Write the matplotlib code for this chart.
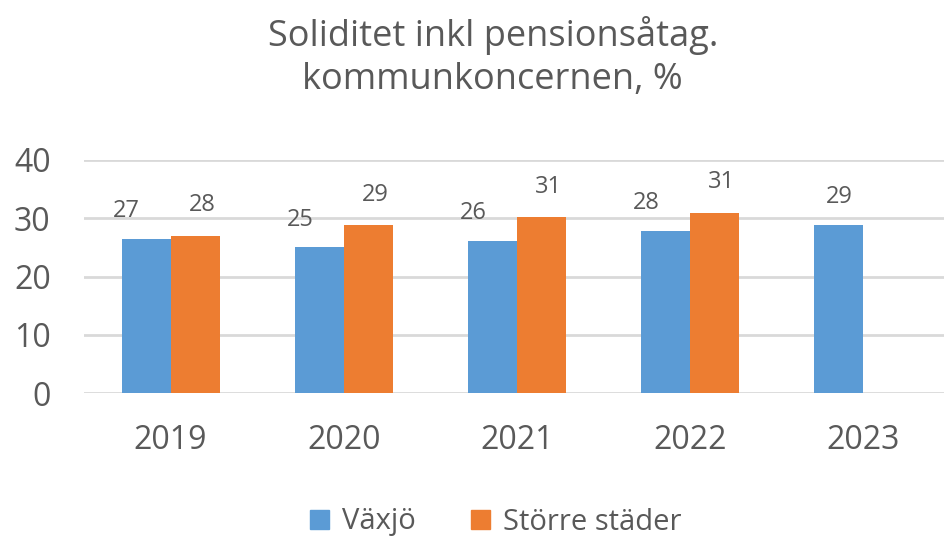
import numpy as np
import matplotlib
matplotlib.use('Agg')
import matplotlib.pyplot as plt
from matplotlib.patches import Patch

plt.rcParams['font.family'] = ['Open Sans', 'DejaVu Sans']

years = ['2019', '2020', '2021', '2022', '2023']
vaxjo = [26.4, 25.0, 26.1, 27.8, 28.8]
storre = [27.0, 28.8, 30.2, 30.9, np.nan]
vaxjo_labels = ['27', '25', '26', '28', '29']
storre_labels = ['28', '29', '31', '31', '']

title = 'Soliditet inkl pensionsåtag.\nkommunkoncernen, %'
series_names = ['Växjö', 'Större städer']

blue = '#5b9bd5'
orange = '#ed7d31'
grey_txt = '#595959'

fig = plt.figure(figsize=(9.44, 5.4), dpi=100)
ax = fig.add_axes([84/944, 147/540, 866/944, 233/540])

x = np.arange(len(years))
w = 0.283
ax.bar(x - w/2, vaxjo, width=w, color=blue, zorder=3)
ax.bar(x + w/2, storre, width=w, color=orange, zorder=3)

for i in range(len(years)):
	paired = not np.isnan(storre[i])
	dx = -14 if paired else 0
	ax.annotate(vaxjo_labels[i], (x[i] - w/2, vaxjo[i]), xytext=(dx, 20),
		textcoords='offset points', ha='center', va='center',
		fontsize=17, color=grey_txt)
	if paired:
		ax.annotate(storre_labels[i], (x[i] + w/2, storre[i]), xytext=(5, 22),
			textcoords='offset points', ha='center', va='center',
			fontsize=17, color=grey_txt)

ax.set_xlim(-0.5, len(years) - 0.5)
ax.set_ylim(0, 40)
ax.set_yticks([0, 10, 20, 30, 40])
ax.set_xticks(x)
ax.set_xticklabels(years)
ax.tick_params(axis='both', length=0, labelsize=23, colors=grey_txt)
ax.tick_params(axis='y', pad=24)
ax.tick_params(axis='x', pad=22)
ax.yaxis.grid(True, color='#d9d9d9', linewidth=2, zorder=0)
ax.set_axisbelow(True)
for s in ax.spines.values():
	s.set_visible(False)

fig.text(0.522, 1 - 57/540, title, ha='center', va='center', fontsize=26,
	color=grey_txt, linespacing=1.25)

handles = [Patch(color=blue), Patch(color=orange)]
fig.legend(handles, series_names, loc='center', bbox_to_anchor=(0.525, 18/540),
	ncol=2, frameon=False, fontsize=21, labelcolor=grey_txt,
	handlelength=0.65, handleheight=0.65, handletextpad=0.45, columnspacing=1.9)

fig.savefig('out.png', dpi=100)
